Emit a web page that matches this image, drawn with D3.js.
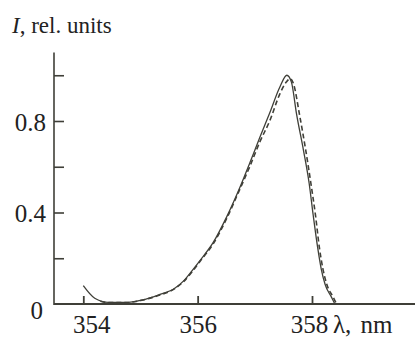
<!DOCTYPE html>
<html><head><meta charset="utf-8">
<script src="https://cdn.jsdelivr.net/npm/d3@7"></script>
<style>html,body{margin:0;padding:0;background:#fff;}svg{display:block;}</style>
</head><body>
<svg id="chart" width="415" height="341"></svg>
<script>
// wavelength (nm) and relative intensity, solid curve
const solidLambda = [354.0, 354.2, 354.44, 354.73, 355.02, 355.31, 355.6, 355.75, 355.9, 356.04, 356.27, 356.51, 356.74, 356.91, 357.09, 357.26, 357.44, 357.56, 357.64, 357.73, 357.85, 357.95, 358.02, 358.1, 358.16, 358.23, 358.34, 358.4];
const solidI      = [0.08, 0.025, 0.007, 0.007, 0.017, 0.039, 0.069, 0.1, 0.145, 0.19, 0.268, 0.382, 0.51, 0.615, 0.73, 0.835, 0.95, 1.0, 0.97, 0.83, 0.673, 0.528, 0.39, 0.245, 0.155, 0.085, 0.03, 0.0];
// dashed curve
const dashLambda = [354.3, 354.44, 354.73, 355.02, 355.31, 355.6, 355.75, 355.9, 356.04, 356.27, 356.51, 356.74, 356.91, 357.09, 357.26, 357.44, 357.55, 357.62, 357.68, 357.78, 357.89, 357.98, 358.06, 358.13, 358.19, 358.26, 358.37, 358.43];
const dashI      = [0.012, 0.006, 0.006, 0.016, 0.037, 0.067, 0.097, 0.14, 0.186, 0.262, 0.375, 0.503, 0.6, 0.71, 0.8, 0.92, 0.97, 0.985, 0.96, 0.83, 0.673, 0.528, 0.39, 0.245, 0.155, 0.085, 0.03, 0.0];
const xTicks = [354, 356, 358];
const yTicks = [0.2, 0.4, 0.6, 0.8, 1.0];
const yLabelled = [0.4, 0.8];

const ink = "#3f3f38";
const font = "'Liberation Serif','Times New Roman',serif";
const svg = d3.select("#chart");

const x = d3.scaleLinear().domain([354, 358]).range([83.3, 312]);
const y = d3.scaleLinear().domain([0, 0.8]).range([304, 121]);
const x0 = 54;

// y axis
const yAxis = d3.axisLeft(y).tickValues(yTicks).tickSizeInner(-10).tickSizeOuter(0).tickPadding(8)
  .tickFormat(d => yLabelled.includes(d) ? d3.format(".1f")(d) : "");
const gy = svg.append("g").attr("transform", `translate(${x0},0)`).call(yAxis);
gy.select(".domain").remove();
gy.selectAll(".tick line").attr("stroke", ink).attr("stroke-width", 1.6);
gy.selectAll(".tick text").attr("fill", "#222").style("font-family", font).style("font-size", "25px").attr("dy", "0.36em");
svg.append("line").attr("x1", x0).attr("x2", x0).attr("y1", y(1.1)).attr("y2", y(0) + 1)
  .attr("stroke", ink).attr("stroke-width", 1.6);
// zero label
svg.append("text").attr("x", x0 - 11).attr("y", y(0) + 15).attr("text-anchor", "end")
  .style("font-family", font).style("font-size", "25px").attr("fill", "#222").text("0");

// x axis
const xAxis = d3.axisBottom(x).tickValues(xTicks).tickSizeInner(-8).tickSizeOuter(0).tickPadding(11)
  .tickFormat(d3.format("d"));
const gx = svg.append("g").attr("transform", `translate(0,${y(0)})`).call(xAxis);
gx.select(".domain").remove();
gx.selectAll(".tick line").attr("stroke", ink).attr("stroke-width", 1.8);
gx.selectAll(".tick text").attr("fill", "#222").style("font-family", font).style("font-size", "25px")
  .attr("dx", d => d === 354 ? 8 : (d === 358 ? -3 : 0));
svg.append("line").attr("x1", x0).attr("x2", 415).attr("y1", y(0)).attr("y2", y(0))
  .attr("stroke", ink).attr("stroke-width", 2.2);

// axis titles
svg.append("text").attr("x", 333).attr("y", 333).style("font-family", font).style("font-size", "25px")
  .style("word-spacing", "3px").attr("fill", "#222").text("λ, nm");
const t = svg.append("text").attr("x", 12).attr("y", 33).style("font-family", font).style("font-size", "23px").attr("fill", "#222");
t.append("tspan").style("font-style", "italic").text("I");
t.append("tspan").text(", rel. units");

// curves
const line = d3.line().x(d => x(d[0])).y(d => y(d[1])).curve(d3.curveMonotoneX);
svg.append("path").datum(solidLambda.map((l, i) => [l, solidI[i]]))
  .attr("d", line).attr("fill", "none").attr("stroke", ink).attr("stroke-width", 1.3);
svg.append("path").datum(dashLambda.map((l, i) => [l, dashI[i]]))
  .attr("d", line).attr("fill", "none").attr("stroke", ink).attr("stroke-width", 1.6).attr("stroke-dasharray", "5,3");
</script>
</body></html>
